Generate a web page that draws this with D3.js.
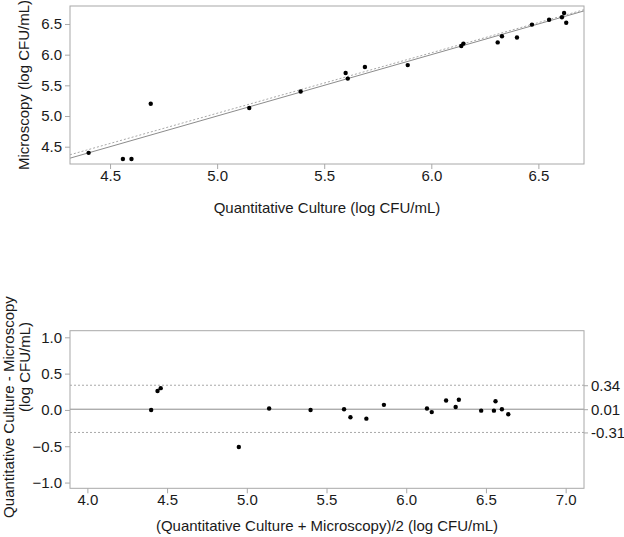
<!DOCTYPE html>
<html>
<head>
<meta charset="utf-8">
<script src="https://cdn.jsdelivr.net/npm/d3@7/dist/d3.min.js"></script>
<style>
    body { margin: 0; background: #fff; }
    text { font-family: "Liberation Sans", Arial, sans-serif; fill: #1a1a1a; }
    .tick line { stroke: #a8a8a8; }
    .tick text { font-size: 15px; }
    .frame { fill: none; stroke: #a8a8a8; stroke-width: 1; }
    .title { font-size: 15px; }
</style>
</head>
<body>
<div id="chart"></div>
<script>

// Top panel: quantitative culture vs microscopy (log CFU/mL)
var cultureVals    = [4.40, 4.56, 4.60, 4.69, 5.15, 5.39, 5.60, 5.61, 5.69, 5.89,
                      6.14, 6.15, 6.31, 6.33, 6.40, 6.47, 6.55, 6.61, 6.62, 6.63];
var microscopyVals = [4.40, 4.30, 4.30, 5.20, 5.13, 5.40, 5.70, 5.61, 5.80, 5.83,
                      6.14, 6.18, 6.20, 6.30, 6.28, 6.49, 6.57, 6.61, 6.68, 6.52];
var topXTicks = [4.5, 5.0, 5.5, 6.0, 6.5];
var topYTicks = [4.5, 5.0, 5.5, 6.0, 6.5];
// reference lines: [intercept, slope]
var identityLine = [0, 1];
var fitLine = [0.12, 0.985];

// Bottom panel: Bland-Altman (mean vs difference)
var meanVals = [4.40, 4.44, 4.46, 4.95, 5.14, 5.40, 5.61, 5.65, 5.75, 5.86,
                6.13, 6.16, 6.25, 6.31, 6.33, 6.47, 6.55, 6.56, 6.60, 6.64];
var diffVals = [0.00, 0.26, 0.30, -0.51, 0.02, 0.00, 0.01, -0.10, -0.12, 0.07,
                0.02, -0.03, 0.13, 0.04, 0.14, -0.01, -0.01, 0.12, 0.01, -0.06];
var bottomXTicks = [4.0, 4.5, 5.0, 5.5, 6.0, 6.5, 7.0];
var bottomYTicks = [-1.0, -0.5, 0.0, 0.5, 1.0];
var meanDiff = 0.01;
var limits = [0.34, -0.31];
var limitLabels = ["0.34", "0.01", "-0.31"];

var svg = d3.select("#chart").append("svg")
    .attr("width", 624)
    .attr("height", 537);

var fmt = d3.format(".1f");

function drawTop() {
    var vis = {};
    vis.left = 70; vis.right = 584; vis.top = 6; vis.bottom = 164;

    // Scales
    vis.x = d3.scaleLinear().domain([4.313, 6.713]).range([vis.left, vis.right]);
    vis.y = d3.scaleLinear().domain([4.218, 6.793]).range([vis.bottom, vis.top]);

    vis.g = svg.append("g");

    svg.append("clipPath").attr("id", "clip-top")
        .append("rect")
        .attr("x", vis.left).attr("y", vis.top)
        .attr("width", vis.right - vis.left).attr("height", vis.bottom - vis.top);

    // Axes
    vis.g.append("g")
        .attr("transform", "translate(0," + vis.bottom + ")")
        .call(d3.axisBottom(vis.x).tickValues(topXTicks).tickFormat(fmt).tickSize(5).tickPadding(1))
        .call(function(g) { g.select(".domain").remove(); });

    vis.g.append("g")
        .attr("transform", "translate(" + vis.left + ",0)")
        .call(d3.axisLeft(vis.y).tickValues(topYTicks).tickFormat(fmt).tickSize(5).tickPadding(3))
        .call(function(g) { g.select(".domain").remove(); });

    // Reference lines
    var x0 = vis.x.domain()[0], x1 = vis.x.domain()[1];
    var lines = vis.g.append("g").attr("clip-path", "url(#clip-top)");
    lines.append("line")
        .attr("x1", vis.x(x0)).attr("x2", vis.x(x1))
        .attr("y1", vis.y(identityLine[0] + identityLine[1] * x0))
        .attr("y2", vis.y(identityLine[0] + identityLine[1] * x1))
        .attr("stroke", "#8c8c8c").attr("stroke-width", 1);
    lines.append("line")
        .attr("x1", vis.x(x0)).attr("x2", vis.x(x1))
        .attr("y1", vis.y(fitLine[0] + fitLine[1] * x0))
        .attr("y2", vis.y(fitLine[0] + fitLine[1] * x1))
        .attr("stroke", "#a8a8a8").attr("stroke-width", 1)
        .attr("stroke-dasharray", "2,2");

    // Points
    vis.g.selectAll(".pt")
        .data(d3.range(cultureVals.length))
        .enter().append("circle")
        .attr("class", "pt")
        .attr("cx", function(i) { return vis.x(cultureVals[i]); })
        .attr("cy", function(i) { return vis.y(microscopyVals[i]); })
        .attr("r", 2.2)
        .attr("fill", "#000");

    vis.g.append("rect").attr("class", "frame")
        .attr("x", vis.left).attr("y", vis.top)
        .attr("width", vis.right - vis.left).attr("height", vis.bottom - vis.top);

    // Titles
    vis.g.append("text").attr("class", "title")
        .attr("x", (vis.left + vis.right) / 2).attr("y", 213)
        .attr("text-anchor", "middle")
        .text("Quantitative Culture (log CFU/mL)");

    vis.g.append("text").attr("class", "title")
        .attr("transform", "translate(29," + ((vis.top + vis.bottom) / 2) + ") rotate(-90)")
        .attr("text-anchor", "middle")
        .text("Microscopy (log CFU/mL)");
}

function drawBottom() {
    var vis = {};
    vis.left = 70; vis.right = 584; vis.top = 330.7; vis.bottom = 488.3;

    vis.x = d3.scaleLinear().domain([3.891, 7.115]).range([vis.left, vis.right]);
    vis.y = d3.scaleLinear().domain([-1.079, 1.091]).range([vis.bottom, vis.top]);

    vis.g = svg.append("g");

    vis.g.append("g")
        .attr("transform", "translate(0," + vis.bottom + ")")
        .call(d3.axisBottom(vis.x).tickValues(bottomXTicks).tickFormat(fmt).tickSize(5).tickPadding(1))
        .call(function(g) { g.select(".domain").remove(); });

    vis.g.append("g")
        .attr("transform", "translate(" + vis.left + ",0)")
        .call(d3.axisLeft(vis.y).tickValues(bottomYTicks).tickFormat(fmt).tickSize(5).tickPadding(3))
        .call(function(g) { g.select(".domain").remove(); });

    // Right axis for mean difference and limits of agreement
    var rightVals = [limits[0], meanDiff, limits[1]];
    vis.g.append("g")
        .attr("transform", "translate(" + vis.right + ",0)")
        .call(d3.axisRight(vis.y).tickValues(rightVals)
            .tickFormat(function(d, i) { return limitLabels[i]; })
            .tickSize(4).tickPadding(3))
        .call(function(g) { g.select(".domain").remove(); });

    // Horizontal lines
    vis.g.append("line")
        .attr("x1", vis.left).attr("x2", vis.right)
        .attr("y1", vis.y(meanDiff)).attr("y2", vis.y(meanDiff))
        .attr("stroke", "#8c8c8c").attr("stroke-width", 1);

    vis.g.selectAll(".loa")
        .data(limits)
        .enter().append("line")
        .attr("class", "loa")
        .attr("x1", vis.left).attr("x2", vis.right)
        .attr("y1", function(d) { return vis.y(d); })
        .attr("y2", function(d) { return vis.y(d); })
        .attr("stroke", "#a8a8a8").attr("stroke-width", 1)
        .attr("stroke-dasharray", "2,2");

    vis.g.selectAll(".pt")
        .data(d3.range(meanVals.length))
        .enter().append("circle")
        .attr("class", "pt")
        .attr("cx", function(i) { return vis.x(meanVals[i]); })
        .attr("cy", function(i) { return vis.y(diffVals[i]); })
        .attr("r", 2.2)
        .attr("fill", "#000");

    vis.g.append("rect").attr("class", "frame")
        .attr("x", vis.left).attr("y", vis.top)
        .attr("width", vis.right - vis.left).attr("height", vis.bottom - vis.top);

    vis.g.append("text").attr("class", "title")
        .attr("x", (vis.left + vis.right) / 2).attr("y", 531)
        .attr("text-anchor", "middle")
        .text("(Quantitative Culture + Microscopy)/2 (log CFU/mL)");

    vis.g.append("text").attr("class", "title")
        .attr("transform", "translate(14,407) rotate(-90)")
        .attr("text-anchor", "middle")
        .text("Quantitative Culture - Microscopy");

    vis.g.append("text").attr("class", "title")
        .attr("transform", "translate(30,367) rotate(-90)")
        .attr("text-anchor", "middle")
        .text("(log CFU/mL)");
}

drawTop();
drawBottom();

</script>
</body>
</html>
